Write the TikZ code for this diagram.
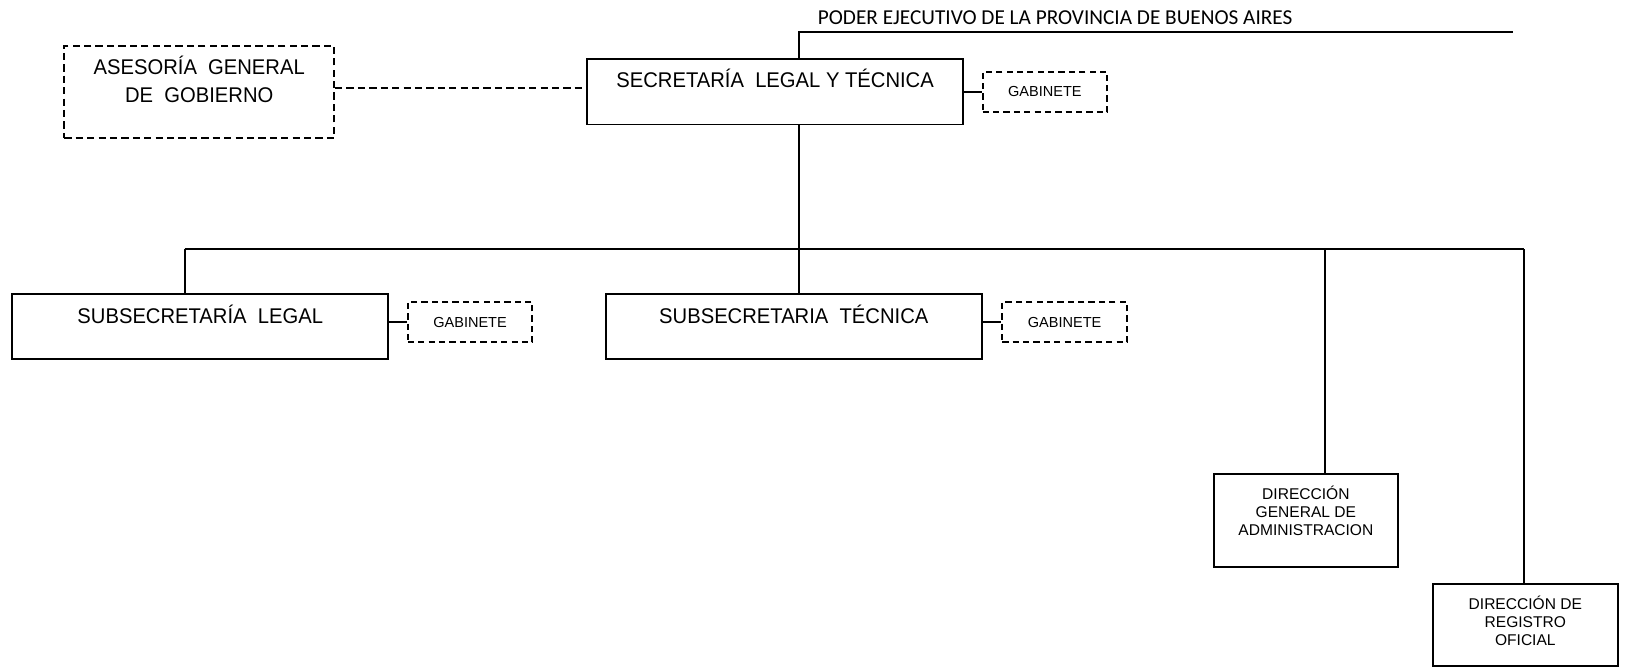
\documentclass[tikz,border=0pt]{standalone}
\usepackage{fontspec}
\setmainfont{Liberation Sans}
\newfontfamily\narrowfont[FakeStretch=0.95]{Liberation Sans}
\newfontfamily\calibfont{Carlito}
\begin{document}
\begin{tikzpicture}[x=1pt,y=-1pt,
  box/.style={draw, rectangle, line width=1.9pt, inner sep=0pt, align=center,
    font=\narrowfont\fontsize{20.5}{27}\selectfont},
  dbox/.style={box, line width=1.8pt, dash pattern=on 7pt off 4pt},
  gab/.style={draw, rectangle, inner sep=0pt, minimum width=120pt, minimum height=39pt,
    dash pattern=on 6pt off 4pt, line width=1.8pt, font=\fontsize{14}{16}\selectfont},
  dirbox/.style={draw, rectangle, line width=1.9pt, inner sep=0pt, align=center,
    font=\fontsize{15}{17.5}\selectfont},
  conn/.style={line width=1.9pt},
  dconn/.style={line width=1.8pt, dash pattern=on 7pt off 4pt}
]
\useasboundingbox (0,0) rectangle (1568,644);

% title
\node[anchor=base west, inner sep=0pt, font=\calibfont\fontsize{20.5}{24}\selectfont]
  (title) at (788,23.5) {PODER EJECUTIVO DE LA PROVINCIA DE BUENOS AIRES};

% boxes
\node[dbox, minimum width=260pt, text height=54.35pt, text depth=34.65pt] (ases) at (192,88.5)
  {ASESOR\'IA\ \ GENERAL\\DE\ \ GOBIERNO};
\node[box, minimum width=362pt, text height=27.35pt, text depth=35.65pt] (sec) at (747,88.5)
  {SECRETAR\'IA\ \ LEGAL Y T\'ECNICA};
\node[gab] (gab1) at (1007,88.5) {GABINETE};

\node[box, minimum width=362pt, text height=28.35pt, text depth=34.65pt] (subleg) at (193,314.5)
  {SUBSECRETAR\'IA\ \ LEGAL};
\node[gab] (gab2) at (453,310.5) {GABINETE};

\node[box, minimum width=362pt, text height=28.35pt, text depth=34.65pt] (subtec) at (765,314.5)
  {SUBSECRETARIA\ \ T\'ECNICA};
\node[gab] (gab3) at (1026,310.5) {GABINETE};

\node[dirbox, minimum width=177pt, text height=59.4pt, text depth=29.6pt] (dga) at (1258.5,501.5)
  {DIRECCI\'ON\\GENERAL DE\\ADMINISTRACION};
\node[dirbox, minimum width=178pt, text height=59.4pt, text depth=19.6pt] (dro) at (1470,602.5)
  {DIRECCI\'ON DE\\REGISTRO\\OFICIAL};

% coordinates
\coordinate (trunk) at (770,240);
\coordinate (topend) at (1458,31);
\coordinate (busl) at (178,240);
\coordinate (bus4) at (1277,240);
\coordinate (busr) at (1469,240);

% connectors
\draw[conn] (sec.north -| trunk) |- (topend);
\draw[dconn] (ases.east |- 0,85) -- (sec.west |- 0,85);
\draw[conn] (sec.east) -- (gab1.west);
\draw[conn] (sec.south -| trunk) -- (subtec.north -| trunk);
\draw[conn] (busl) -- (busr);
\draw[conn] (busl) -- (subleg.north -| busl);
\draw[conn] (bus4) -- (dga.north -| bus4);
\draw[conn] (busr) -- (dro.north -| busr);
\draw[conn] (subleg.east |- gab2.west) -- (gab2.west);
\draw[conn] (subtec.east |- gab3.west) -- (gab3.west);
\end{tikzpicture}
\end{document}
